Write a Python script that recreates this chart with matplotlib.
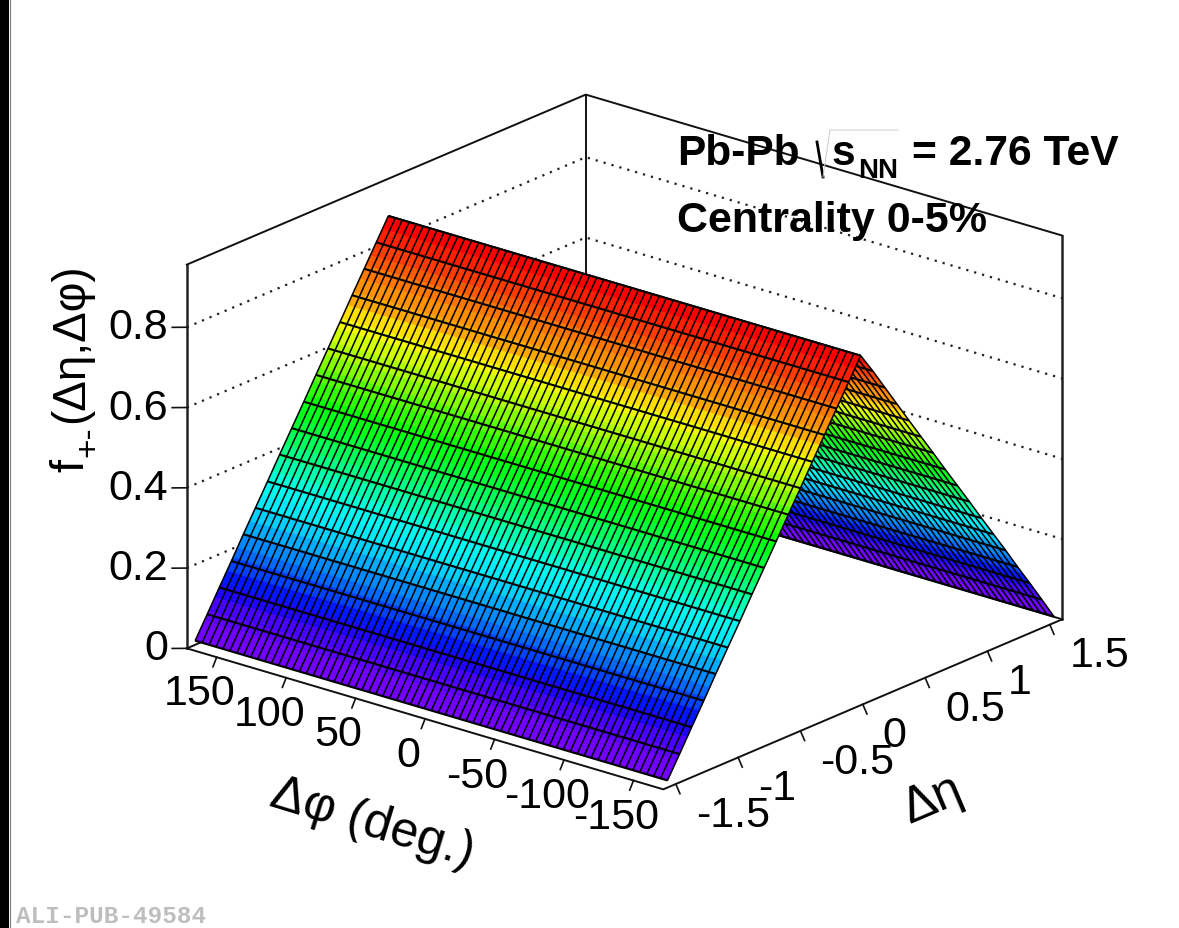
import numpy as np
import matplotlib
matplotlib.use("Agg")
import matplotlib.pyplot as plt
from matplotlib.colors import LinearSegmentedColormap
from matplotlib.transforms import IdentityTransform
from mpl_toolkits.mplot3d import proj3d

plt.rcParams["font.family"] = "Liberation Sans"

# surface nodes
delta_phi = [-170, -165, -160, -155, -150, -145, -140, -135, -130, -125, -120, -115,
             -110, -105, -100, -95, -90, -85, -80, -75, -70, -65, -60, -55, -50, -45,
             -40, -35, -30, -25, -20, -15, -10, -5, 0, 5, 10, 15, 20, 25, 30, 35, 40,
             45, 50, 55, 60, 65, 70, 75, 80, 85, 90, 95, 100, 105, 110, 115, 120, 125,
             130, 135, 140, 145, 150, 155, 160, 165, 170]
delta_eta = [-1.55, -1.453, -1.356, -1.259, -1.163, -1.066, -0.969, -0.872, -0.775,
             -0.678, -0.581, -0.484, -0.388, -0.291, -0.194, -0.097, 0.0, 0.097, 0.194,
             0.291, 0.388, 0.484, 0.581, 0.678, 0.775, 0.872, 0.969, 1.066, 1.163,
             1.259, 1.356, 1.453, 1.55]
f_pm = [0.014, 0.067, 0.121, 0.174, 0.228, 0.281, 0.334, 0.388, 0.441, 0.494, 0.548,
        0.601, 0.654, 0.708, 0.761, 0.814, 0.867, 0.816, 0.762, 0.708, 0.654, 0.601,
        0.548, 0.494, 0.441, 0.388, 0.334, 0.281, 0.228, 0.174, 0.121, 0.067, 0.012]

phi_ticks = [150, 100, 50, 0, -50, -100, -150]
eta_ticks = [-1.5, -1, -0.5, 0, 0.5, 1, 1.5]
eta_labels = ["-1.5", "-1", "-0.5", "0", "0.5", "1", "1.5"]
z_ticks = [0, 0.2, 0.4, 0.6, 0.8]
z_labels = ["0", "0.2", "0.4", "0.6", "0.8"]

palette_z = [0.0, 0.03, 0.09, 0.12, 0.174, 0.228, 0.28, 0.334, 0.388, 0.441, 0.494,
             0.548, 0.601, 0.654, 0.68, 0.708, 0.761, 0.814, 0.867]
palette_rgb = [(115, 0, 255), (110, 0, 255), (60, 0, 255), (0, 0, 255), (0, 90, 255),
               (0, 160, 255), (0, 230, 255), (0, 255, 230), (0, 255, 140), (0, 255, 60),
               (0, 255, 0), (80, 255, 0), (170, 255, 0), (240, 255, 0), (255, 230, 0),
               (255, 170, 0), (255, 120, 0), (255, 60, 0), (255, 0, 0)]

PHI_MAX = 171.5
ETA_MAX = 1.6
Z_MAX = 0.956
W, H = 1179, 929
LABEL_SIZE = 31

cmap = LinearSegmentedColormap.from_list(
    "rainbow_root",
    [(z / palette_z[-1], tuple(c / 255 for c in rgb)) for z, rgb in zip(palette_z, palette_rgb)],
    N=34)


def draw_slope(ax, eta, f, zo):
    """One side of the ridge: colour bands first, then the black mesh."""
    eta_fine = []
    for a, b in zip(eta[:-1], eta[1:]):
        eta_fine.extend(np.linspace(a, b, 8, endpoint=False))
    eta_fine.append(eta[-1])
    eta_fine = np.array(eta_fine)
    f_fine = np.interp(eta_fine, eta, f)
    x, y = np.meshgrid([delta_phi[0], delta_phi[-1]], eta_fine)
    z = np.column_stack([f_fine, f_fine])
    mid = (z[:-1, :1] + z[1:, :1]) / 2
    ax.plot_surface(x, y, z, facecolors=cmap(mid / palette_z[-1]), rstride=1, cstride=1,
                    shade=False, linewidth=0.4, zorder=zo)
    xm, ym = np.meshgrid(delta_phi, eta)
    zm = np.tile(np.array(f)[:, None], (1, len(delta_phi)))
    ax.plot_wireframe(xm, ym, zm, rstride=0, cstride=1, color="black", linewidth=1.1, zorder=zo + 1)
    ax.plot_wireframe(xm, ym, zm, rstride=1, cstride=0, color="black", linewidth=1.5, zorder=zo + 1)


fig = plt.figure(figsize=(W / 100, H / 100), dpi=100)
side = 942
ax = fig.add_axes([140.8 / W, 2.3 / H, side / W, side / H], projection="3d", proj_type="ortho")
ax.computed_zorder = False
ax.set_xlim(PHI_MAX, -PHI_MAX)
ax.set_ylim(-ETA_MAX, ETA_MAX)
ax.set_zlim(0, Z_MAX)
ax.set_box_aspect((621, 624, 411))
ax.view_init(elev=20.8, azim=-50.2)
ax.set_axis_off()

# box
box = dict(color="#111111", linewidth=1.4, zorder=1)
wall = dict(color="#222222", linewidth=1.8, zorder=1)
ax.plot([PHI_MAX, PHI_MAX], [-ETA_MAX, -ETA_MAX], [0, Z_MAX], **wall)
ax.plot([-PHI_MAX, -PHI_MAX], [ETA_MAX, ETA_MAX], [0, Z_MAX], **wall)
ax.plot([PHI_MAX, PHI_MAX], [ETA_MAX, ETA_MAX], [0, Z_MAX], **box)
ax.plot([PHI_MAX, PHI_MAX, -PHI_MAX], [-ETA_MAX, ETA_MAX, ETA_MAX], [Z_MAX, Z_MAX, Z_MAX], **box)
ax.plot([PHI_MAX, PHI_MAX, -PHI_MAX], [-ETA_MAX, ETA_MAX, ETA_MAX], [0, 0, 0], **box)
ax.plot([PHI_MAX, -PHI_MAX, -PHI_MAX], [-ETA_MAX, -ETA_MAX, ETA_MAX], [0, 0, 0], color="#111111", linewidth=1.4, zorder=8)

# dotted grid on the two back walls
for zt in z_ticks[1:]:
    ax.plot([PHI_MAX, PHI_MAX, -PHI_MAX], [-ETA_MAX, ETA_MAX, ETA_MAX], [zt, zt, zt],
            color="#222222", linewidth=1.6, linestyle=(0, (1, 2.7)), zorder=1)

draw_slope(ax, delta_eta[16:], f_pm[16:], 2)
draw_slope(ax, delta_eta[:17], f_pm[:17], 4)

# overlay in image pixels for titles and page furniture
top = fig.add_axes([0, 0, 1, 1], facecolor="none")
top.set_xlim(0, W)
top.set_ylim(H, 0)
top.axis("off")
ax.apply_aspect()
proj = ax.get_proj()


def label_3d(phi, eta, z, s, **kw):
    """Put a flat label at a point given in data coordinates."""
    x2, y2, _ = proj3d.proj_transform(phi, eta, z, proj)
    px = ax.transData.transform((x2, y2))
    top.text(px[0], px[1], s, transform=IdentityTransform(), fontsize=LABEL_SIZE, **kw)


# ticks and tick labels
tick = dict(color="#111111", linewidth=1.2, zorder=8)
for p in phi_ticks:
    ax.plot([p, p], [-ETA_MAX, -ETA_MAX - 0.03], [0, -0.02], **tick)
    label_3d(p, -ETA_MAX - 0.136, -0.072, str(p), ha="center", va="center")
for e, lab in zip(eta_ticks, eta_labels):
    ax.plot([-PHI_MAX, -PHI_MAX - 3], [e, e], [0, -0.021], **tick)
    label_3d(-PHI_MAX - 14.4, e, -0.062, lab, ha="left", va="center")
for zt, lab in zip(z_ticks, z_labels):
    ax.plot([PHI_MAX, PHI_MAX + 10.5], [-ETA_MAX, -ETA_MAX], [zt, zt - 0.011], **tick)
    label_3d(PHI_MAX + 13.7, -ETA_MAX, zt - 0.014, lab, ha="right", va="center")

top.fill_between([0, 9], 0, H, color="black", linewidth=0)
top.plot([9.5, 9.5], [0, H], color="#777777", linewidth=0.8)
top.fill_between([0, W], 0, 1.2, color="black", linewidth=0)

base = dict(ha="left", va="baseline")
top.text(677, 165, "Pb-Pb", fontsize=30.5, fontweight="bold", **base)
top.plot([817, 823], [143, 178], color="black", linewidth=2)
top.plot([823, 830, 898], [178, 131, 131], color="#cccccc", linewidth=0.7)
top.text(832, 165, "s", fontsize=30.5, fontweight="bold", **base)
top.text(858, 178, "NN", fontsize=20, fontweight="bold", **base)
top.text(912, 165, "= 2.76 TeV", fontsize=30.7, fontweight="bold", **base)
top.text(677, 232, "Centrality 0-5%", fontsize=31, fontweight="bold", **base)

top.text(372, 824, "Δφ (deg.)", fontsize=36, rotation=-17, ha="center", va="center")
top.text(933, 800, "Δη", fontsize=36, rotation=23, ha="center", va="center")
vert = dict(rotation=90, rotation_mode="anchor", ha="left", va="baseline")
top.text(83, 472, "f", fontsize=34, **vert)
top.text(97, 457, "+-", fontsize=24, **vert)
top.text(83, 423, "(Δη,Δφ)", fontsize=33, **vert)

top.text(16, 923, "ALI-PUB-49584", fontsize=17.6, family="Liberation Mono", fontweight="bold",
         color="#bebebe", ha="left", va="baseline")

fig.savefig("out.png", dpi=100)
